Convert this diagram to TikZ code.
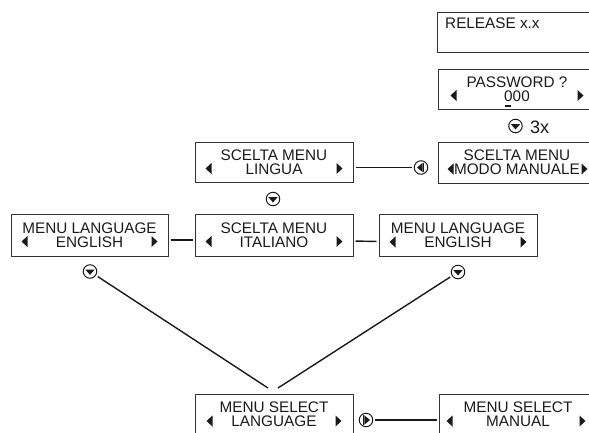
\documentclass[tikz,border=0pt]{standalone}
\usepackage{fontspec}
\setmainfont{Liberation Sans}
\usetikzlibrary{calc}
\definecolor{ink}{HTML}{1A1A1A}
\definecolor{edge}{HTML}{333333}
\newcommand\bxfont{\fontsize{15.3}{13.8}\selectfont}
\newcommand\tris[3]{%
  \fill[ink] ([shift={(#2,6.5)}]#1.west) -- ++(6,-5.5) -- ++(0,11) -- cycle;
  \fill[ink] ([shift={(-#3,6.5)}]#1.east) -- ++(-6,-5.5) -- ++(0,11) -- cycle;}
\begin{document}
\begin{tikzpicture}[x=1pt,y=-1pt,
  box/.style={draw=edge, line width=1pt, minimum width=158pt, minimum height=41pt,
    inner sep=0pt, align=center, font=\bxfont, text=ink},
  conn/.style={draw=ink, line width=1.4pt, shorten <=2pt, shorten >=2pt},
  btn/.style={circle, draw=ink, line width=1pt, minimum size=13.5pt, inner sep=0pt},
  btnd/.style={btn, path picture={\fill[ink] ([shift={(-4.6,-1.8)}]path picture bounding box.center) -- ++(9.2,0) -- ++(-4.6,5.2) -- cycle;}},
  btnl/.style={btn, path picture={\fill[ink] ([shift={(-4,0)}]path picture bounding box.center) -- ++(5.6,-4.6) -- ++(0,9.2) -- cycle;
     \draw[ink, line width=1pt] ([shift={(2.8,-4.8)}]path picture bounding box.center) -- ++(0,9.6);}},
  btnr/.style={btn, path picture={\fill[ink] ([shift={(4,0)}]path picture bounding box.center) -- ++(-5.6,-4.6) -- ++(0,9.2) -- cycle;
     \draw[ink, line width=1pt] ([shift={(-2.8,-4.8)}]path picture bounding box.center) -- ++(0,9.6);}}
]
\useasboundingbox (0,0) rectangle (589,432);
\clip (0,0) rectangle (589,432);

% top right column
\node[box, minimum height=40pt] (rel) at (516,32) {};
\node[font=\bxfont, text=ink, anchor=base west, inner sep=0pt] (reltxt) at (445,28) {RELEASE x.x};

\node[box, minimum height=40pt] (pass) at (517,89)
  {PASSWORD ?\\\smash{\rlap{\hspace{0.3pt}\rule[-5.5pt]{6.5pt}{1.6pt}}}000};
\tris{pass}{13}{13}

\node[btnd] (b3) at (515.5,126) {};
\node[font=\fontsize{18}{18}\selectfont, text=ink, anchor=base west, inner sep=0pt] (three) at (530,133) {3x};

\node[box] (modo) at (517,162.5) {SCELTA MENU\\MODO MANUALE};
\tris{modo}{10}{9}

% second row
\node[box, minimum height=40pt] (lingua) at (274,162) {SCELTA MENU\\LINGUA};
\tris{lingua}{11}{11}
\node[btnl] (bl) at (421,167.5) {};
\draw[conn] (lingua.east |- bl) -- (bl.west);

\node[btnd] (bd) at (273,199) {};

% third row
\node[box, minimum width=157pt, minimum height=42pt] (en1) at (89.5,235) {MENU LANGUAGE\\ENGLISH};
\tris{en1}{11}{11}
\node[box, minimum height=42pt] (ita) at (274,235) {SCELTA MENU\\ITALIANO};
\tris{ita}{11}{11}
\node[box, minimum height=42pt] (en2) at (458,235.5) {MENU LANGUAGE\\ENGLISH};
\tris{en2}{11}{11}
\draw[conn] ([yshift=-5pt]en1.east) -- ([yshift=-5pt]ita.west);
\draw[conn] ([yshift=-6pt]ita.east) -- ([yshift=-6pt]en2.west);

\node[btnd] (bdl) at (90,271.5) {};
\node[btnd] (bdr) at (458,272) {};

% bottom row
\node[box] (sellang) at (274,414.5) {MENU SELECT\\LANGUAGE};
\tris{sellang}{12}{12}
\node[box] (selman) at (518,414.5) {MENU SELECT\\MANUAL};
\tris{selman}{8}{12}
\node[btnr] (br) at (366,420) {};
\draw[conn] (br.east) -- (selman.west |- br);

\coordinate (jl) at (268,388);
\coordinate (jr) at (278,388);
\draw[conn, shorten >=0pt] (bdl) -- (jl);
\draw[conn, shorten >=0pt] (bdr) -- (jr);
\end{tikzpicture}
\end{document}
